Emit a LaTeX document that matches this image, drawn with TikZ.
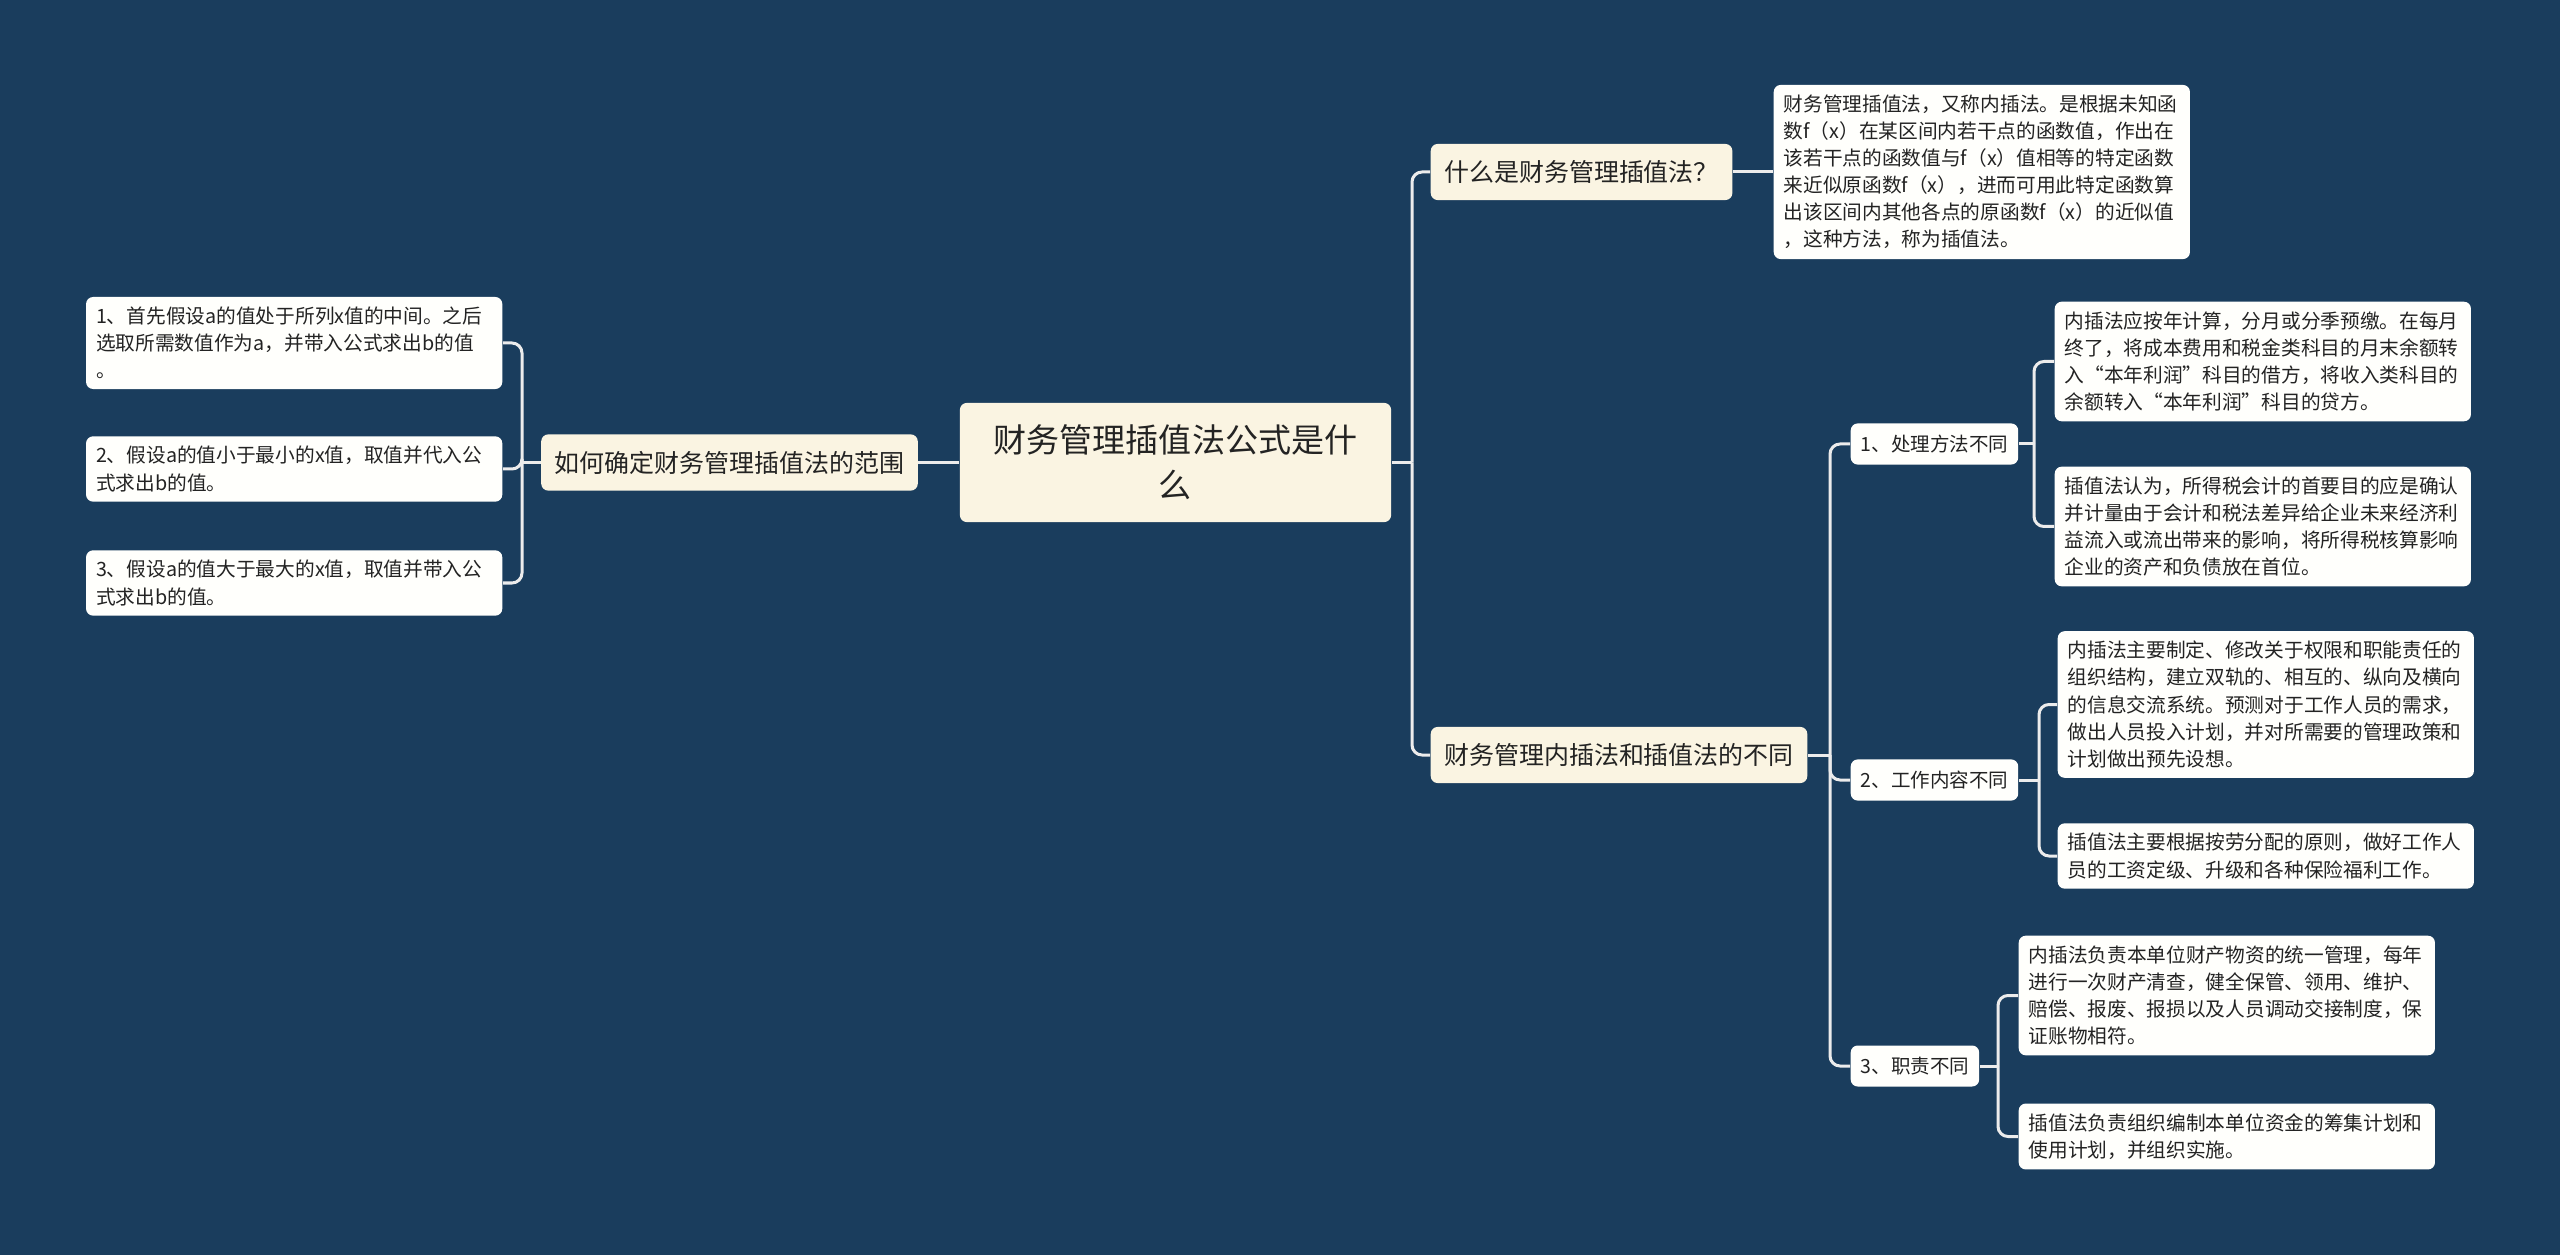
\documentclass[tikz,border=0pt]{standalone}
\usepackage{fontspec}
\setmainfont{Noto Sans CJK SC}
\usetikzlibrary{positioning}
\definecolor{bgblue}{RGB}{26,61,93}
\definecolor{cream}{RGB}{250,244,226}
\definecolor{paper}{RGB}{255,255,252}
\definecolor{ink}{RGB}{35,35,35}
\definecolor{wire}{RGB}{236,236,236}
\tikzstyle{every node}=[text=ink, inner sep=0pt]
\tikzstyle{rootbox}=[fill=cream, rounded corners=0.07cm, align=center, text width=3.67cm, inner xsep=0.32cm, inner ysep=0.22cm, font=\fontsize{9.4pt}{12.8pt}\selectfont]
\tikzstyle{topicbox}=[fill=cream, rounded corners=0.07cm, inner xsep=0.135cm, inner ysep=0.165cm, font=\fontsize{7.1pt}{9pt}\selectfont]
\tikzstyle{subbox}=[fill=paper, rounded corners=0.07cm, inner xsep=0.1cm, inner ysep=0.115cm, font=\fontsize{5.55pt}{7.7pt}\selectfont]
\tikzstyle{leafbox}=[fill=paper, rounded corners=0.07cm, align=left, text width=3.96cm, inner xsep=0.1cm, inner ysep=0.1cm, font=\fontsize{5.6pt}{7.7pt}\selectfont]
\tikzstyle{link}=[draw=wire, line width=0.03cm, rounded corners=0.1cm]

\begin{document}
\begin{tikzpicture}[x=0.01cm, y=-0.01cm]
    \useasboundingbox (0,0) rectangle (2560,1255);
    \fill[bgblue] (0,0) rectangle (2560,1255);

    % centre topic
    \node[rootbox] (root) at (1175.5,462.5) {财务管理插值法公式是什\\么};

    % left branch
    \node[topicbox] (range) at (729.5,462.5) {如何确定财务管理插值法的范围};
    \node[leafbox, anchor=east] (LL1) at (503,343) {1、首先假设a的值处于所列x值的中间。之后\\选取所需数值作为a，并带入公式求出b的值\\。};
    \node[leafbox, anchor=east] (LL2) at (503,469) {2、假设a的值小于最小的x值，取值并代入公\\式求出b的值。};
    \node[leafbox, anchor=east] (LL3) at (503,583) {3、假设a的值大于最大的x值，取值并带入公\\式求出b的值。};
    \coordinate (sL) at (522,462.5);

    % right branch, first topic
    \coordinate (sR) at (1412,462.5);
    \node[topicbox, anchor=west] (T1) at (1430,172) {什么是财务管理插值法？};
    \node[leafbox, anchor=west] (D) at (1773,172) {财务管理插值法，又称内插法。是根据未知函\\数f（x）在某区间内若干点的函数值，作出在\\该若干点的函数值与f（x）值相等的特定函数\\来近似原函数f（x），进而可用此特定函数算\\出该区间内其他各点的原函数f（x）的近似值\\，这种方法，称为插值法。};

    % right branch, second topic
    \node[topicbox, anchor=west] (T2) at (1430,755) {财务管理内插法和插值法的不同};
    \coordinate (s2) at (1830,755);
    \node[subbox, anchor=west] (S1) at (1850,444) {1、处理方法不同};
    \node[subbox, anchor=west] (S2) at (1850,780) {2、工作内容不同};
    \node[subbox, anchor=west] (S3) at (1850,1066) {3、职责不同};

    % leaves of the three differences
    \coordinate (s21) at (2034,444);
    \node[leafbox, anchor=west] (L1a) at (2054,361.5) {内插法应按年计算，分月或分季预缴。在每月\\终了，将成本费用和税金类科目的月末余额转\\入“本年利润”科目的借方，将收入类科目的\\余额转入“本年利润”科目的贷方。};
    \node[leafbox, anchor=west] (L1b) at (2054,526.5) {插值法认为，所得税会计的首要目的应是确认\\并计量由于会计和税法差异给企业未来经济利\\益流入或流出带来的影响，将所得税核算影响\\企业的资产和负债放在首位。};
    \coordinate (s22) at (2039,780);
    \node[leafbox, anchor=west] (L2a) at (2057,704.5) {内插法主要制定、修改关于权限和职能责任的\\组织结构，建立双轨的、相互的、纵向及横向\\的信息交流系统。预测对于工作人员的需求，\\做出人员投入计划，并对所需要的管理政策和\\计划做出预先设想。};
    \node[leafbox, anchor=west] (L2b) at (2057,856) {插值法主要根据按劳分配的原则，做好工作人\\员的工资定级、升级和各种保险福利工作。};
    \coordinate (s23) at (1998,1066);
    \node[leafbox, anchor=west] (L3a) at (2018,995.5) {内插法负责本单位财产物资的统一管理，每年\\进行一次财产清查，健全保管、领用、维护、\\赔偿、报废、报损以及人员调动交接制度，保\\证账物相符。};
    \node[leafbox, anchor=west] (L3b) at (2018,1136.5) {插值法负责组织编制本单位资金的筹集计划和\\使用计划，并组织实施。};

    % connectors
    \draw[link] (range.east) -- (root.west);
    \draw[link] (range.west) -- (sL);
    \foreach \i in {1,2,3} {
        \draw[link] (sL) |- (LL\i.east);
    }
    \draw[link] (root.east) -- (sR);
    \foreach \i in {1,2} {
        \draw[link] (sR) |- (T\i.west);
    }
    \draw[link] (T1.east) -- (D.west);
    \draw[link] (T2.east) -- (s2);
    \foreach \i in {1,2,3} {
        \draw[link] (s2) |- (S\i.west);
        \draw[link] (S\i.east) -- (s2\i);
        \foreach \j in {a,b} {
            \draw[link] (s2\i) |- (L\i\j.west);
        }
    }
\end{tikzpicture}
\end{document}
